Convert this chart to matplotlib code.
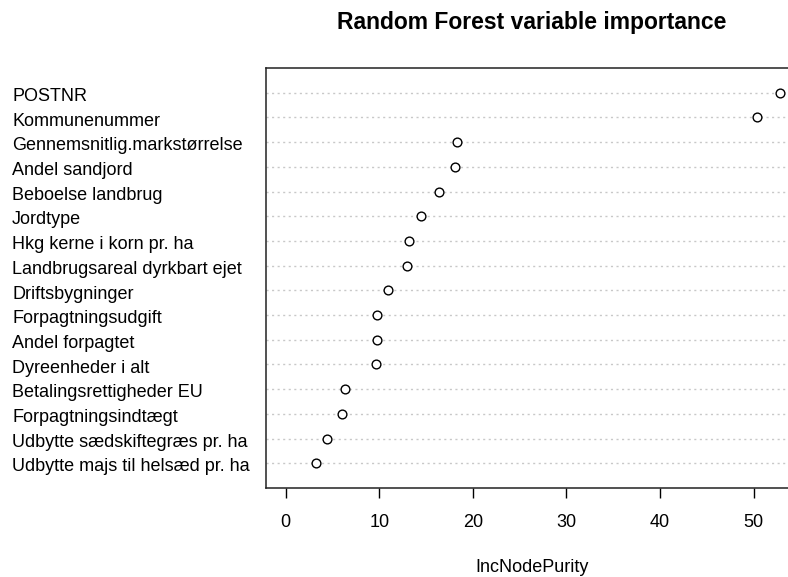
import matplotlib
matplotlib.use("Agg")
import matplotlib.pyplot as plt
from matplotlib.transforms import blended_transform_factory, ScaledTranslation

variables = [
    "POSTNR",
    "Kommunenummer",
    "Gennemsnitlig.markstørrelse",
    "Andel sandjord",
    "Beboelse landbrug",
    "Jordtype",
    "Hkg kerne i korn pr. ha",
    "Landbrugsareal dyrkbart ejet",
    "Driftsbygninger",
    "Forpagtningsudgift",
    "Andel forpagtet",
    "Dyreenheder i alt",
    "Betalingsrettigheder EU",
    "Forpagtningsindtægt",
    "Udbytte sædskiftegræs pr. ha",
    "Udbytte majs til helsæd pr. ha",
]
importance = [52.8, 50.4, 18.3, 18.05, 16.4, 14.4, 13.2, 13.0, 10.9,
              9.7, 9.7, 9.6, 6.35, 6.05, 4.45, 3.2]
xticks = [0, 10, 20, 30, 40, 50]

plt.rcParams['font.family'] = ['Liberation Sans', 'DejaVu Sans']

W, H = 788, 577
fig = plt.figure(figsize=(W / 100, H / 100), dpi=100)
left, right, top, bottom = 266, 799.5, 68, 488
ax = fig.add_axes([left / W, (H - bottom) / H, (right - left) / W, (bottom - top) / H])

n = len(variables)
ypos = list(range(n, 0, -1))
for y in ypos:
    ax.axhline(y, color='#c8c8c8', linestyle=(0, (1.5, 2.5)), linewidth=1.0, zorder=1)
ax.plot(importance, ypos, linestyle='none', marker='o', markersize=6.3,
        markerfacecolor='white', markeredgecolor='black', markeredgewidth=1.0, zorder=3)

ax.set_xlim(-2.11, 54.9)
ax.set_ylim(0, n + 1)
ax.set_yticks([])
ax.set_xticks(xticks)
ax.set_xticklabels([str(t) for t in xticks])
ax.tick_params(axis='x', length=7.5, width=1, pad=11, labelsize=13, colors='black')
for s in ax.spines.values():
    s.set_linewidth(1.1)
    s.set_color('#222222')

trans = blended_transform_factory(fig.transFigure, ax.transData) + \
    ScaledTranslation(0, -8.2 / 100, fig.dpi_scale_trans)
for name, y in zip(variables, ypos):
    ax.text(12 / W, y, name, transform=trans, ha='left', va='baseline',
            fontsize=13.0, color='black', clip_on=False)

fig.text(532 / W, 1 - 22 / H, "Random Forest variable importance",
         ha='center', va='center', fontsize=16.5, fontweight='bold')
fig.text(532 / W, 1 - 568 / H, "IncNodePurity", ha='center', va='center', fontsize=13)

fig.savefig("out.png", dpi=100)
